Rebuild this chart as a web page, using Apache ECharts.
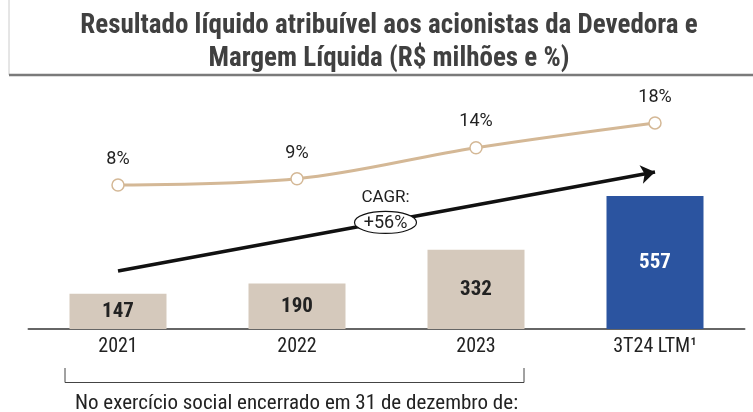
<!DOCTYPE html>
<html>
<head>
<meta charset="utf-8">
<script src="https://cdn.jsdelivr.net/npm/echarts@6/dist/echarts.min.js"></script>
<style>
  html, body { margin: 0; padding: 0; background: #fff; }
  #main { width: 753px; height: 412px; }
</style>
</head>
<body>
<div id="main"></div>
<script>
// dados do gráfico
const categories = ['2021', '2022', '2023', '3T24 LTM¹'];
const lucro = [147, 190, 332, 557];       // R$ milhões
const margem = [8, 9, 14, 18];            // %
const cagrArrow = [243, 657];             // altura da seta (escala das barras)
const cagrText = '+56%';

const condensed = '"Roboto Condensed", "Liberation Sans Narrow", "Arial Narrow", Roboto, sans-serif';

const chart = echarts.init(document.getElementById('main'));

chart.setOption({
  animation: false,
  grid: { left: 28.5, right: 8.5, top: 90, bottom: 83 },
  xAxis: {
    type: 'category',
    data: categories,
    axisTick: { show: false },
    axisLine: { lineStyle: { color: '#666', width: 2 } },
    axisLabel: { color: '#222', fontSize: 20, fontFamily: condensed, margin: 8 }
  },
  yAxis: [
    { type: 'value', min: 0, max: 1000, show: false, splitLine: { show: false } },
    { type: 'value', min: -15.2, max: 23.3, show: false, splitLine: { show: false } }
  ],
  series: [
    {
      type: 'bar',
      data: lucro.map((v, i) => ({
        value: v,
        itemStyle: { color: i === 3 ? '#2b54a0' : '#d5c9bc' },
        label: { color: i === 3 ? '#fff' : '#222' }
      })),
      barWidth: 97,
      label: {
        show: true,
        position: 'inside',
        fontSize: 21,
        fontWeight: 'bold',
        fontFamily: condensed
      },
      markLine: {
        silent: true,
        symbol: ['none', 'arrow'],
        symbolSize: 14,
        lineStyle: { color: '#111', width: 3.5, type: 'solid' },
        label: { show: false },
        data: [[
          { coord: [0, cagrArrow[0]] },
          { coord: [3, cagrArrow[1]] }
        ]]
      }
    },
    {
      type: 'line',
      yAxisIndex: 1,
      data: margem,
      smooth: 0.35,
      symbol: 'circle',
      symbolSize: 12,
      lineStyle: { color: '#d4b896', width: 3 },
      itemStyle: { color: '#fff', borderColor: '#d4b896', borderWidth: 1.5 },
      label: {
        show: true,
        position: 'top',
        distance: 10,
        formatter: '{c}%',
        color: '#222',
        fontSize: 18,
        fontFamily: 'Roboto, sans-serif'
      },
      z: 3
    }
  ]
});

// anotações: título, CAGR, chave e nota
const p0 = chart.convertToPixel({ xAxisIndex: 0, yAxisIndex: 0 }, [0, cagrArrow[0]]);
const p3 = chart.convertToPixel({ xAxisIndex: 0, yAxisIndex: 0 }, [3, cagrArrow[1]]);
const p2 = chart.convertToPixel({ xAxisIndex: 0, yAxisIndex: 0 }, [2, 0]);
const mx = (p0[0] + p3[0]) / 2 - 1;
const my = (p0[1] + p3[1]) / 2 + 1;
const bx0 = p0[0] - 53;
const bx1 = p2[0] + 48;

chart.setOption({
  graphic: [
    {
      type: 'line',
      shape: { x1: 9, y1: 0, x2: 9, y2: 75 },
      style: { stroke: '#ccc', lineWidth: 1 }
    },
    {
      type: 'line',
      shape: { x1: 9, y1: 75, x2: 753, y2: 75 },
      style: { stroke: '#7a7a7a', lineWidth: 2.5 }
    },
    {
      type: 'text',
      x: 389, y: 10,
      style: {
        text: 'Resultado líquido atribuível aos acionistas da Devedora e\nMargem Líquida (R$ milhões e %)',
        textAlign: 'center',
        fill: '#404040',
        fontSize: 27,
        fontWeight: 'bold',
        lineHeight: 33,
        fontFamily: condensed
      }
    },
    {
      type: 'ellipse',
      shape: { cx: mx, cy: my, rx: 31, ry: 11 },
      style: { fill: '#fff', stroke: '#111', lineWidth: 1.2 },
      z: 100
    },
    {
      type: 'text',
      x: mx, y: my + 1,
      style: { text: cagrText, textAlign: 'center', textVerticalAlign: 'middle', fill: '#222', fontSize: 18, fontFamily: 'Roboto, sans-serif' },
      z: 101
    },
    {
      type: 'text',
      x: mx, y: my - 25,
      style: { text: 'CAGR:', textAlign: 'center', textVerticalAlign: 'middle', fill: '#222', fontSize: 17, fontFamily: 'Roboto, sans-serif' },
      z: 101
    },
    {
      type: 'polyline',
      shape: { points: [[bx0, 368], [bx0, 382.5], [bx1, 382.5], [bx1, 368]] },
      style: { stroke: '#444', lineWidth: 1, fill: null }
    },
    {
      type: 'text',
      x: (bx0 + bx1) / 2 + 2, y: 404,
      style: {
        text: 'No exercício social encerrado em 31 de dezembro de:',
        textAlign: 'center',
        textVerticalAlign: 'middle',
        fill: '#222',
        fontSize: 21,
        fontFamily: condensed
      }
    }
  ]
});
</script>
</body>
</html>
